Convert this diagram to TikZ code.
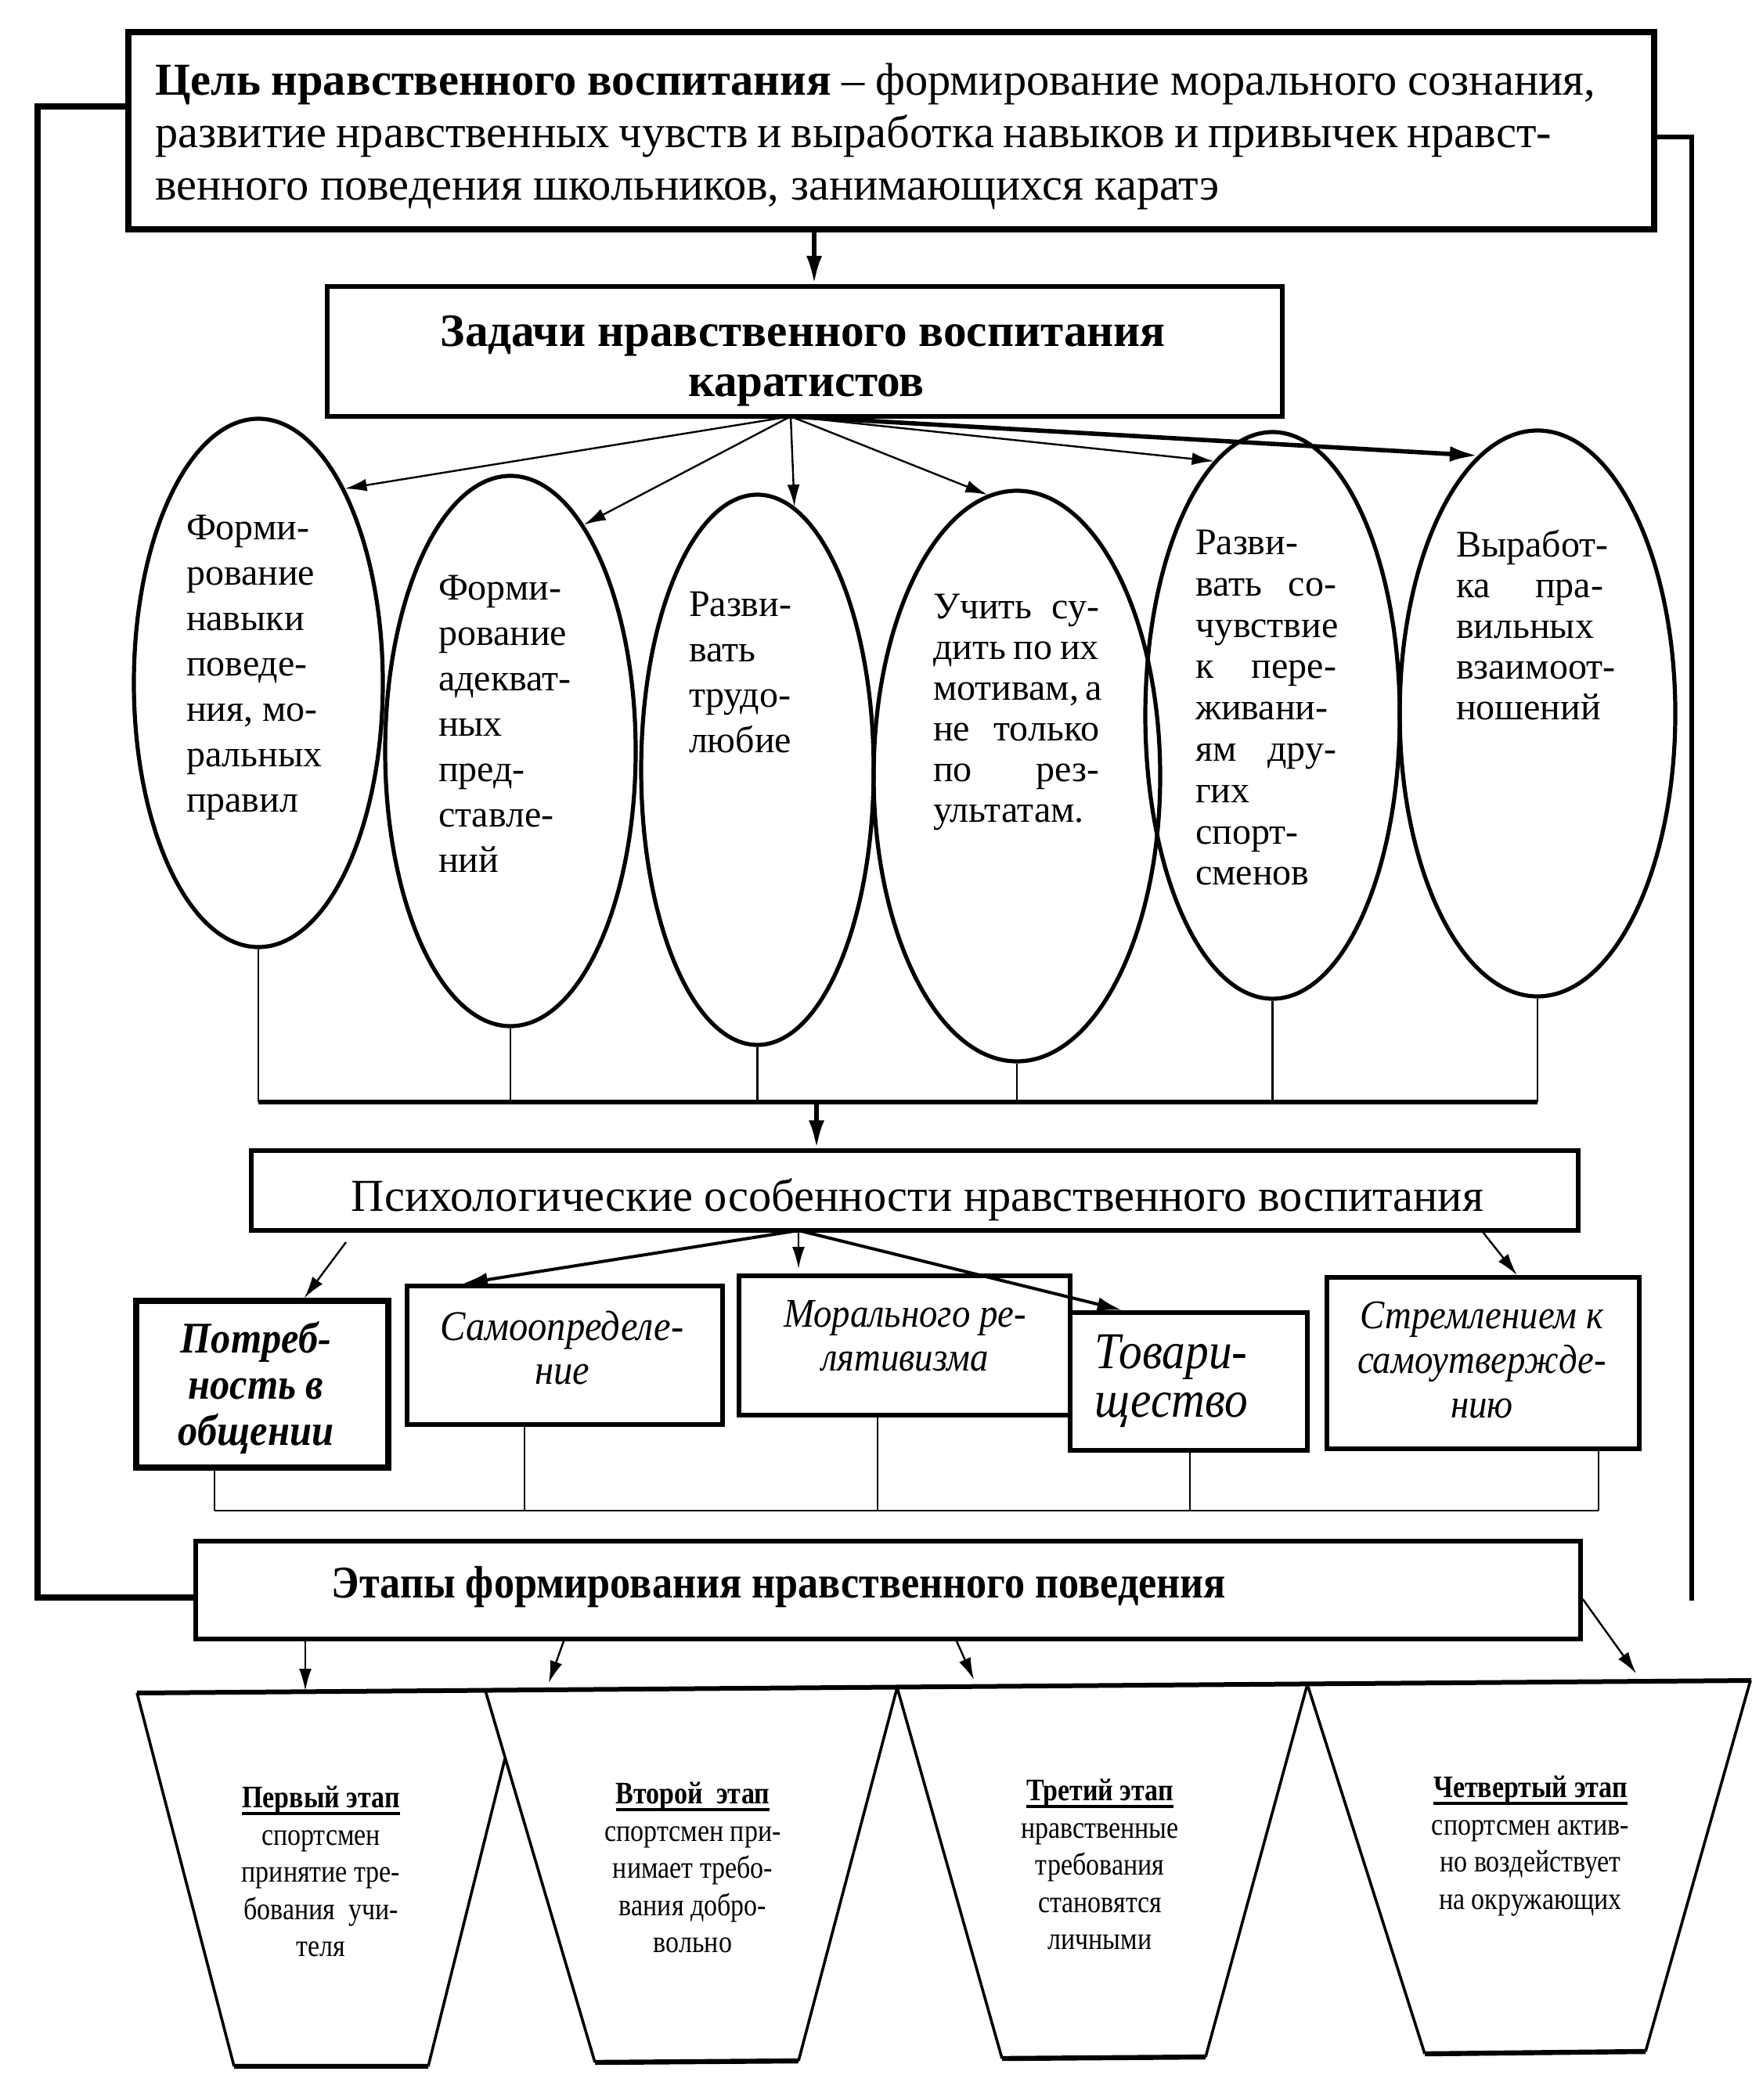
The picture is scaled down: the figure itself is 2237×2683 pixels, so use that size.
\documentclass[tikz,border=0pt]{standalone}
\usepackage{fontspec}
\setmainfont{Liberation Serif}
\newfontfamily\condA[FakeStretch=0.9]{Liberation Serif}
\newfontfamily\condB[FakeStretch=0.85]{Liberation Serif}
\usetikzlibrary{arrows.meta,shapes.geometric,fit}
\newcommand{\jl}[2]{\makebox[#1][s]{#2}}
\newsavebox{\ulbox}
\newcommand{\thul}[1]{\sbox{\ulbox}{#1}\rlap{\rule[-2.4pt]{\wd\ulbox}{1.1pt}}\usebox{\ulbox}}
\begin{document}
\begin{tikzpicture}[x=0.25pt,y=-0.25pt,
  box/.style={draw, inner sep=0pt, line width=1.5pt},
  oval/.style={ellipse, draw, inner sep=0pt, line width=1.3pt},
  arr/.style={-{Latex[length=7pt,width=4pt]}, line width=0.6pt},
  midarr/.style={-{Latex[length=8pt,width=4.5pt]}, line width=1pt},
  thickarr/.style={-{Latex[length=9pt,width=5pt]}, line width=1.4pt},
  thinline/.style={line width=0.6pt},
  busline/.style={line width=1.5pt},
  txt/.style={inner sep=0pt, outer sep=0pt},
  etxt/.style={txt, anchor=north west, align=left},
  btxt/.style={txt, anchor=north, align=center},
  stxt/.style={txt, anchor=north, align=center, font=\condB\fontsize{10}{11.9}\selectfont}
]
\useasboundingbox (0,0) rectangle (2237,2683);
\fill[white] (0,0) rectangle (2237,2683);

% ---------- goal box ----------
\node[box, line width=1.8pt, fit={(164,41) (2113,293)}] (goal) {};
\node[txt, anchor=base west, font=\fontsize{14.6}{16.75}\selectfont] (g1) at (198,122)
  {\jl{460pt}{\textbf{Цель нравственного воспитания} – формирование морального сознания,}};
\node[txt, anchor=base west, font=\fontsize{14.6}{16.75}\selectfont] (g2) at (198,189)
  {\jl{446pt}{развитие нравственных чувств и выработка навыков и привычек нравст-}};
\node[txt, anchor=base west, font=\fontsize{14.6}{16.75}\selectfont] (g3) at (198,256)
  {венного поведения школьников, занимающихся каратэ};

% ---------- tasks box ----------
\node[box, fit={(418,366) (1638,532)}] (zad) {};
\node[txt, anchor=base, font=\fontsize{14.8}{16}\selectfont\bfseries] (z1) at (1026,443) {Задачи нравственного воспитания};
\node[txt, anchor=base, font=\fontsize{14.8}{16}\selectfont\bfseries] (z2) at (1030,507) {каратистов};

\coordinate (gz) at (1040,0);
\draw[thickarr] (gz |- goal.south) -- (gz |- zad.north);

% ---------- ellipses ----------
\node[oval, minimum width=79.5pt, minimum height=168.75pt] (e1) at (330,872.5) {};
\node[oval, minimum width=80pt, minimum height=175.75pt] (e2) at (652,959.5) {};
\node[oval, minimum width=74.25pt, minimum height=175.75pt] (e3) at (967.5,983.5) {};
\node[oval, minimum width=91.5pt, minimum height=182.25pt] (e4) at (1299,991.5) {};
\node[oval, minimum width=81.25pt, minimum height=181pt] (e5) at (1625.5,914) {};
\node[oval, minimum width=88pt, minimum height=180.75pt] (e6) at (1964,911.5) {};

\node[etxt, font=\fontsize{12}{14.5}\selectfont] (t1) at (238,658)
  {Форми-\\рование\\навыки\\поведе-\\ния, мо-\\ральных\\правил};
\node[etxt, font=\fontsize{12}{14.5}\selectfont] (t2) at (560,735)
  {Форми-\\рование\\адекват-\\ных\\пред-\\ставле-\\ний};
\node[etxt, font=\fontsize{12}{14.5}\selectfont] (t3) at (880,756)
  {Разви-\\вать\\трудо-\\любие};
\node[etxt, font=\fontsize{12}{13}\selectfont] (t4) at (1192,759)
  {\jl{53pt}{Учить су-}\\\jl{53pt}{дить по их}\\\jl{53pt}{мотивам, а}\\\jl{53pt}{не только}\\\jl{53pt}{по рез-}\\ультатам.};
\node[etxt, font=\fontsize{12}{13.2}\selectfont] (t5) at (1527,677)
  {Разви-\\\jl{45pt}{вать со-}\\чувствие\\\jl{45pt}{к пере-}\\живани-\\\jl{45pt}{ям дру-}\\гих\\спорт-\\сменов};
\node[etxt, font=\fontsize{12}{13}\selectfont] (t6) at (1860,677)
  {Выработ-\\\jl{47pt}{ка пра-}\\вильных\\взаимоот-\\ношений};

% fan arrows
\coordinate (zf) at (1010,532);
\draw[arr] (zf) -- (e1.66.7);
\draw[arr] (zf) -- (e2.72.3);
\draw[arr] (zf) -- (e3.82);
\draw[arr] (zf) -- (e4.96.5);
\draw[arr] (zf) -- (e5.103.3);
\draw[thickarr] (zf) -- (e6.103.6);

% bus under ellipses
\coordinate (bus1) at (0,1408);
\foreach \e in {e1,e2,e3,e4,e5,e6} \draw[thinline] (\e.south) -- (\e.south |- bus1);
\draw[busline] (e1.south |- bus1) -- (e6.south |- bus1);

% ---------- psychology box ----------
\node[box, line width=1.3pt, fit={(321,1470) (2016,1572)}] (psych) {};
\node[txt, anchor=base, font=\fontsize{14.6}{16}\selectfont] (pt) at (1172,1547)
  {Психологические особенности нравственного воспитания};
\coordinate (bp) at (1043,1408);
\draw[thickarr] (bp) -- (bp |- psych.north);

% small boxes
\node[box, line width=1.8pt, fit={(174,1662) (496,1875)}] (b1) {};
\node[box, fit={(520,1643) (923,1820)}] (b2) {};
\node[box, fit={(944,1630) (1367,1808)}] (b3) {};
\node[box, fit={(1367,1677) (1670,1853)}] (b4) {};
\node[box, fit={(1695,1632) (2094,1851)}] (b5) {};

\node[btxt, font=\condA\fontsize{14}{14.75}\selectfont\bfseries\itshape] (bt1) at (327,1688)
  {Потреб-\\ность в\\общении};
\node[btxt, font=\condA\fontsize{13.5}{14}\selectfont\itshape] (bt2) at (718,1675)
  {Самоопределе-\\ние};
\node[btxt, font=\condA\fontsize{13}{14}\selectfont\itshape] (bt3) at (1156,1661)
  {Морального ре-\\лятивизма};
\node[btxt, font=\condA\fontsize{16.5}{15.5}\selectfont\itshape] (bt4) at (1496,1705)
  {Товари-\\щество};
\node[btxt, font=\condA\fontsize{13}{14.25}\selectfont\itshape] (bt5) at (1893,1663)
  {Стремлением к\\самоутвержде-\\нию};

% arrows from psychology box
\coordinate (pf) at (1020,1572);
\coordinate (a1s) at (442,1587);
\coordinate (a3e) at (1020,1621);
\draw[arr] (a1s) -- (b1.64.8);
\draw[midarr] (pf) -- (b2.145);
\draw[arr] (pf) -- (a3e);
\draw[midarr] (pf) -- (b4.133.3);
\draw[arr] (psych.south -| b5.north) -- (b5.69);

% bus under small boxes
\coordinate (c1) at (274,1930);
\coordinate (c2) at (670,1930);
\coordinate (c3) at (1121,1930);
\coordinate (c4) at (1520,1930);
\coordinate (c5) at (2042,1930);
\draw[thinline] (c1 |- b1.south) -- (c1);
\draw[thinline] (c2 |- b2.south) -- (c2);
\draw[thinline] (c3 |- b3.south) -- (c3);
\draw[thinline] (c4 |- b4.south) -- (c4);
\draw[thinline] (c5 |- b5.south) -- (c5);
\draw[thinline] (c1) -- (c5);

% ---------- stages box ----------
\node[box, line width=1.4pt, fit={(250,1969) (2019,2094)}] (etapy) {};
\node[txt, anchor=base, font=\condA\fontsize{14.5}{15}\selectfont\bfseries] (et) at (995,2041)
  {Этапы формирования нравственного поведения};

% outer feedback lines
\coordinate (L1) at (48,136);
\coordinate (L2) at (48,2041);
\draw[line width=1.8pt] (goal.west |- L1) -- (L1) -- (L2) -- (etapy.west |- L2);
\coordinate (R1) at (2161,175);
\coordinate (R2) at (2161,2045);
\draw[line width=1.3pt] (goal.east |- R1) -- (R1) -- (R2);

% ---------- stage trapezoids ----------
\coordinate (s1e) at (390,2160);
\coordinate (s2s) at (720,2094);
\coordinate (s2e) at (701,2150);
\coordinate (s3s) at (1222,2094);
\coordinate (s3e) at (1244,2146);
\coordinate (s4s) at (2019,2043);
\coordinate (s4e) at (2090,2138);
\draw[arr] (s1e |- etapy.south) -- (s1e);
\draw[arr] (etapy.south -| s2s) -- (s2e);
\draw[arr] (etapy.south -| s3s) -- (s3e);
\draw[arr] (etapy.east |- s4s) -- (s4e);

\draw[line width=1.5pt] (175,2163) -- (2237,2147);
\draw[line width=0.9pt]
  (175,2163) -- (299,2640)
  (645,2247) -- (547,2640)
  (620,2160) -- (760,2635)
  (1146,2156) -- (1020,2633)
  (1146,2156) -- (1280,2630)
  (1670,2152) -- (1540,2628)
  (1670,2152) -- (1820,2624)
  (2236,2147) -- (2102,2621);
\draw[line width=1.6pt]
  (299,2640) -- (547,2640)
  (760,2635) -- (1020,2633)
  (1280,2630) -- (1540,2628)
  (1820,2624) -- (2102,2621);

\node[stxt] (st1) at (410,2282)
  {\thul{\textbf{Первый этап}}\\спортсмен\\принятие тре-\\бования\ \ учи-\\теля};
\node[stxt] (st2) at (885,2277)
  {\thul{\textbf{Второй\ \ этап}}\\спортсмен при-\\нимает требо-\\вания добро-\\вольно};
\node[stxt] (st3) at (1405,2273)
  {\thul{\textbf{Третий этап}}\\нравственные\\требования\\становятся\\личными};
\node[stxt] (st4) at (1955,2269)
  {\thul{\textbf{Четвертый этап}}\\спортсмен актив-\\но воздействует\\на окружающих};
\end{tikzpicture}
\end{document}
